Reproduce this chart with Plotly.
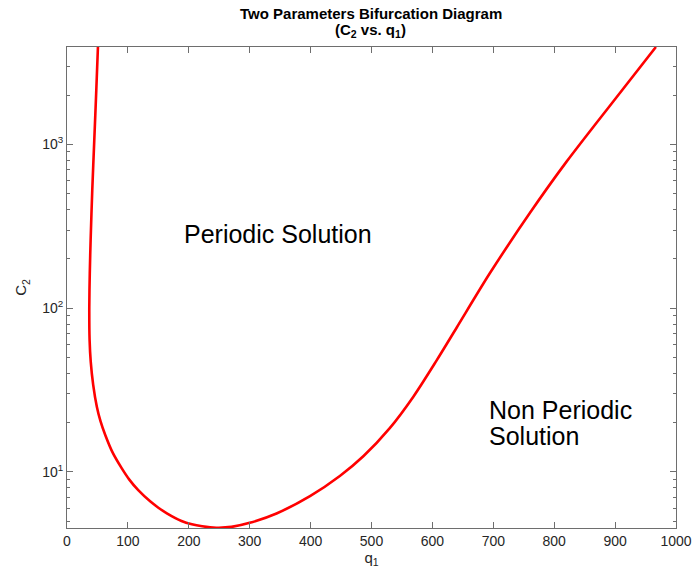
import plotly.graph_objects as go
import numpy as np

# Curve points (q1, C2)
q1 = [50.8, 48.1, 44.8, 41.5, 38.8, 37.4, 36.6, 37.1, 39.0, 43.0, 49.0,
      55.0, 62.8, 75.0, 90.0, 102.0, 117.0, 137.0, 150.0, 164.0, 188.0, 205.0, 222.0,
      245.0, 270.0, 300.0, 344.0, 399.0, 448.0, 487.0, 530.0, 569.0, 607.0, 640.0,
      694.0, 760.0, 820.0, 896.0, 967.0]
c2 = [3936, 2142, 1062, 526, 261, 163, 102, 64, 47, 34, 25,
      20.4, 16.8, 13.1, 10.5, 9.0, 7.73, 6.58, 6.04, 5.58, 5.01, 4.78, 4.65,
      4.56, 4.61, 4.88, 5.57, 7.11, 9.44, 12.5, 18.5, 28.9, 48.0, 76.2,
      162.6, 381, 782, 1811, 3936]

x_ticks = [0, 100, 200, 300, 400, 500, 600, 700, 800, 900, 1000]
y_ticks = [10, 100, 1000]
y_ticktext = ["10<sup>1</sup>", "10<sup>2</sup>", "10<sup>3</sup>"]
y_minor = [5, 6, 7, 8, 9, 20, 30, 40, 50, 60, 70, 80, 90,
           200, 300, 400, 500, 600, 700, 800, 900, 2000, 3000]

font_family = "Liberation Sans, Arial, Helvetica, sans-serif"
axis_grey = "#6e6e6e"
label_col = "#262626"

fig = go.Figure()
fig.add_trace(go.Scatter(x=q1, y=c2, mode="lines",
                         line=dict(color="#ff0000", width=2.6, shape="spline", smoothing=0.8),
                         showlegend=False, hoverinfo="skip"))

# region labels
fig.add_annotation(x=347, y=np.log10(285), text="Periodic Solution", showarrow=False,
                   xref="x", yref="y", xanchor="center", yanchor="middle",
                   font=dict(size=25, color="black", family=font_family))
fig.add_annotation(x=689, y=np.log10(24.0), text="Non Periodic", showarrow=False,
                   xref="x", yref="y", xanchor="left", yanchor="middle",
                   font=dict(size=25, color="black", family=font_family))
fig.add_annotation(x=689, y=np.log10(16.45), text="Solution", showarrow=False,
                   xref="x", yref="y", xanchor="left", yanchor="middle",
                   font=dict(size=25, color="black", family=font_family))

# title (two lines)
fig.add_annotation(x=0.499, y=1.0706, text="<b>Two Parameters Bifurcation Diagram</b>",
                   showarrow=False, xref="paper", yref="paper", xanchor="center", yanchor="middle",
                   font=dict(size=15, color="black", family=font_family))
fig.add_annotation(x=0.499, y=1.0336, text="<b>(C<sub>2</sub> vs. q<sub>1</sub>)</b>",
                   showarrow=False, xref="paper", yref="paper", xanchor="center", yanchor="middle",
                   font=dict(size=15, color="black", family=font_family))

axis_common = dict(showgrid=False, zeroline=False, showline=True, linecolor=axis_grey,
                   linewidth=1, mirror="ticks", ticks="inside", tickcolor=axis_grey,
                   tickfont=dict(size=14, color=label_col, family=font_family))

fig.update_xaxes(range=[0, 1000], tickvals=x_ticks, ticklen=6,
                 title=dict(text="q<sub>1</sub>", font=dict(size=15, color=label_col, family=font_family),
                            standoff=0),
                 **axis_common)
fig.update_yaxes(type="log", range=[np.log10(4.54), np.log10(3936)], tickvals=y_ticks,
                 ticktext=y_ticktext, ticklen=6,
                 minor=dict(ticks="inside", ticklen=3, tickcolor=axis_grey, showgrid=False,
                            tickmode="array", tickvals=y_minor),
                 title=dict(text="C<sub>2</sub>", font=dict(size=15, color=label_col, family=font_family),
                            standoff=11),
                 **axis_common)

fig.update_layout(
    width=693, height=569,
    margin=dict(l=67, r=17, t=47, b=41, autoexpand=False),
    paper_bgcolor="white", plot_bgcolor="white",
)

fig.write_html("out.html")
